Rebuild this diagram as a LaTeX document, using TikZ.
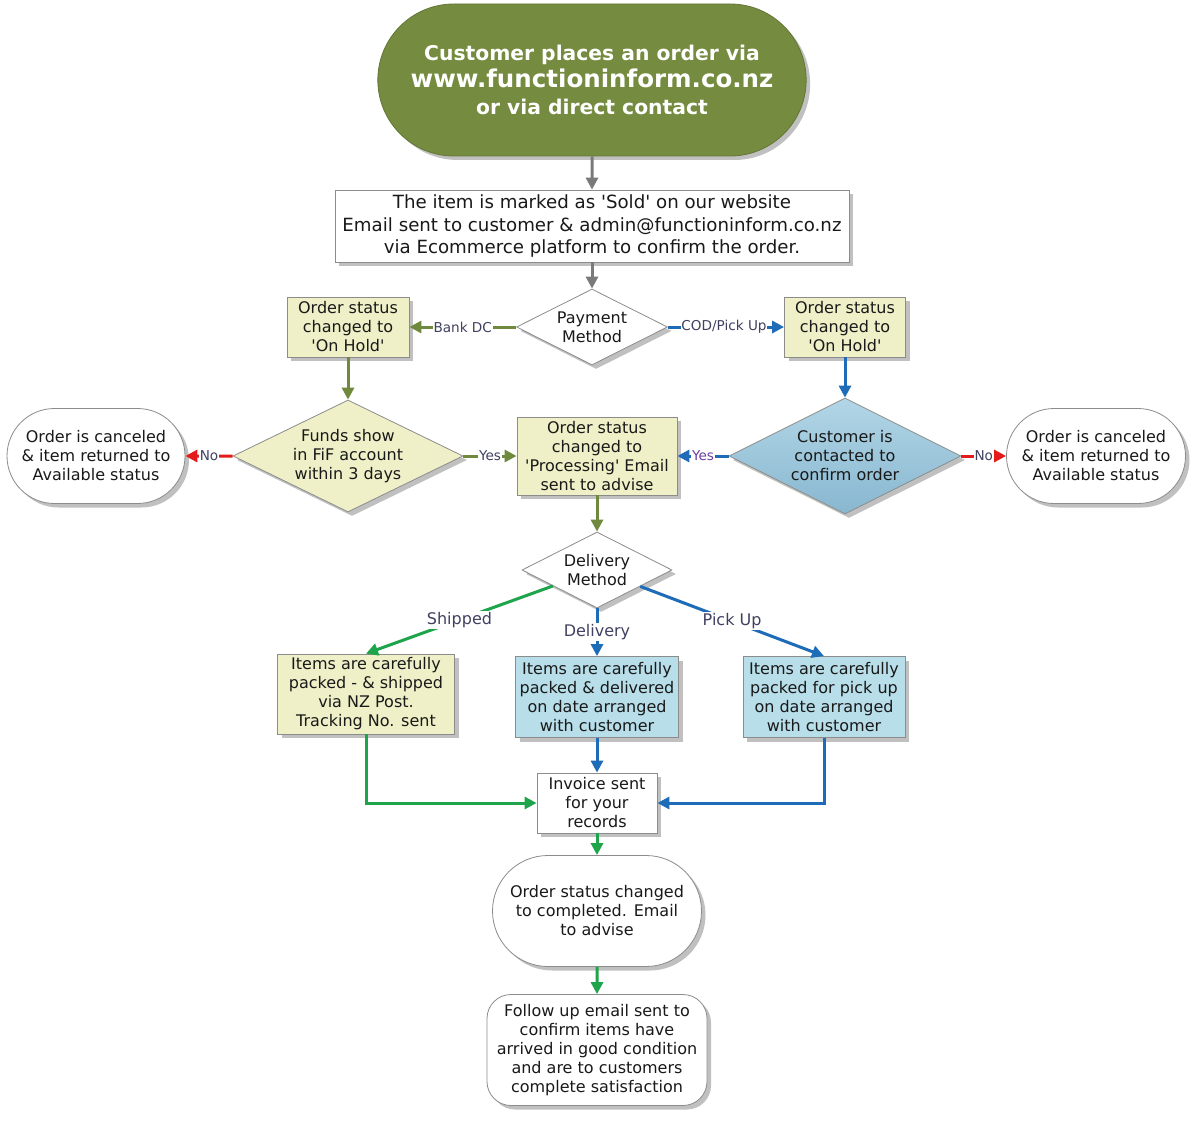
\documentclass[tikz,border=0pt]{standalone}
\usepackage{fontspec}
\setmainfont{DejaVu Sans}[Ligatures=TeXOff]
\usetikzlibrary{shapes.geometric,shapes.misc,shadows,arrows.meta}
\definecolor{olv}{HTML}{758B3F}
\definecolor{olvline}{HTML}{6F8A3C}
\definecolor{bln}{HTML}{1E6BB8}
\definecolor{grn}{HTML}{1EA54B}
\definecolor{rd}{HTML}{E31B1B}
\definecolor{gr}{HTML}{7A7A7A}
\definecolor{yl}{HTML}{EFF0C8}
\definecolor{lb}{HTML}{B8DEEA}
\definecolor{dbA}{HTML}{B2D6E6}
\definecolor{dbB}{HTML}{88B7D0}
\definecolor{bord}{HTML}{8C8C8C}
\definecolor{lbltxt}{HTML}{404060}
\definecolor{purp}{HTML}{6B3FA0}
\begin{document}
\begin{tikzpicture}[x=1pt,y=-1pt,
  shad/.style={drop shadow={shadow xshift=4pt, shadow yshift=-4pt, opacity=0.35, fill=black!70}},
  base/.style={draw=bord, line width=0.8pt, align=center, text=black!90,
    font=\fontsize{16}{19}\selectfont, inner sep=2pt, shad},
  boxw/.style={base, rectangle, fill=white},
  boxy/.style={base, rectangle, fill=yl},
  boxb/.style={base, rectangle, fill=lb},
  term/.style={base, rounded rectangle, fill=white},
  dia/.style={base, diamond, inner sep=0pt},
  dtxt/.style={align=center, text=black!90, font=\fontsize{16}{19}\selectfont},
  conn/.style={line width=3pt, -{Triangle[length=12pt,width=12pt]}},
  elbl/.style={fill=white, inner sep=0.8pt, font=\fontsize{13.6}{16}\selectfont, text=lbltxt},
  elblb/.style={fill=white, inner sep=1.5pt, font=\fontsize{16}{18}\selectfont, text=lbltxt}
]
\useasboundingbox[fill=white] (0,0) rectangle (1200,1121);

% top terminator
\node[rounded rectangle, fill=olv, draw=olv!85!black, line width=0.8pt, shad,
      minimum width=435pt, minimum height=152pt, text=white, align=center,
      font=\bfseries\fontsize{20.3}{27}\selectfont] (top) at (592,80)
  {Customer places an order via\\{\fontsize{24.5}{27}\selectfont www.functioninform.co.nz}\\or via direct contact};

\node[boxw, minimum width=514pt, minimum height=72pt, font=\fontsize{18.2}{22.5}\selectfont] (box1) at (592,226)
  {The item is marked as 'Sold' on our website\\Email sent to customer \& admin@functioninform.co.nz\\via Ecommerce platform to confirm the order.};

\node[dia, fill=white, minimum width=151pt, minimum height=76pt,
      label={[dtxt]center:Payment\\Method}] (pay) at (592,327) {};

\node[boxy, minimum width=122pt, minimum height=60pt] (onL) at (348,327) {Order status\\changed to\\'On Hold'};
\node[boxy, minimum width=121pt, minimum height=60pt] (onR) at (845,327) {Order status\\changed to\\'On Hold'};

\node[dia, fill=yl, minimum width=230pt, minimum height=112pt,
      label={[dtxt]center:Funds show\\in FiF account\\within 3 days}] (funds) at (348,456) {};

\node[term, minimum width=182pt, minimum height=95pt] (canL) at (96,456) {Order is canceled\\\& item returned to\\Available status};

\node[boxy, minimum width=160pt, minimum height=78pt] (proc) at (597,456) {Order status\\changed to\\'Processing' Email\\sent to advise};

\node[dia, top color=dbA, bottom color=dbB, minimum width=232pt, minimum height=116pt,
      label={[dtxt]center:Customer is\\contacted to\\confirm order}] (cust) at (845,456) {};

\node[term, minimum width=183pt, minimum height=95pt] (canR) at (1096,456) {Order is canceled\\\& item returned to\\Available status};

\node[dia, fill=white, minimum width=150pt, minimum height=76pt,
      label={[dtxt]center:Delivery\\Method}] (deliv) at (597,570) {};

\node[boxy, minimum width=177pt, minimum height=80pt] (ship) at (366,694) {Items are carefully\\packed - \& shipped\\via NZ Post.\\Tracking No. sent};
\node[boxb, minimum width=163pt, minimum height=81pt] (delb) at (597,697) {Items are carefully\\packed \& delivered\\on date arranged\\with customer};
\node[boxb, minimum width=162pt, minimum height=81pt] (pick) at (824,697) {Items are carefully\\packed for pick up\\on date arranged\\with customer};

\node[boxw, minimum width=120pt, minimum height=60pt] (inv) at (597,803) {Invoice sent\\for your\\records};

\node[term, minimum width=213pt, minimum height=111pt] (comp) at (597,911) {Order status changed\\to completed. Email\\to advise};

\node[boxw, rounded corners=24pt, minimum width=220pt, minimum height=111pt] (follow) at (597,1050)
  {Follow up email sent to\\confirm items have\\arrived in good condition\\and are to customers\\complete satisfaction};

% connectors
\draw[conn,gr] (top) -- (box1);
\draw[conn,gr] (box1) -- (pay);
\draw[conn,olvline] (pay) -- node[elbl]{Bank DC} (onL);
\draw[conn,bln] (pay) -- node[elbl, xshift=-2pt]{COD/Pick Up} (onR);
\draw[conn,olvline] (onL) -- (funds);
\draw[conn,bln] (onR) -- (cust);
\draw[conn,rd] (funds) -- node[elbl]{No} (canL);
\draw[conn,olvline] (funds) -- node[elbl]{Yes} (proc);
\draw[conn,bln] (cust) -- node[elbl,text=purp]{Yes} (proc);
\draw[conn,rd] (cust) -- node[elbl]{No} (canR);
\draw[conn,olvline] (proc) -- (deliv);
\draw[conn,grn] (deliv) -- node[elblb]{Shipped} (ship.north);
\draw[conn,bln] (deliv) -- node[elblb]{Delivery} (delb);
\draw[conn,bln] (deliv) -- node[elblb]{Pick Up} (pick.north);
\draw[conn,grn] (ship.south) |- (inv.west);
\draw[conn,bln] (delb) -- (inv);
\draw[conn,bln] (pick.south) |- (inv.east);
\draw[conn,grn] (inv) -- (comp);
\draw[conn,grn] (comp) -- (follow);
\end{tikzpicture}
\end{document}
